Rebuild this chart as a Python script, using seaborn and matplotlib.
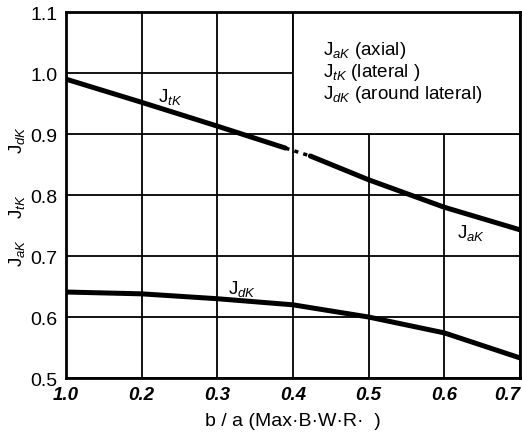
import matplotlib
matplotlib.use("Agg")
import matplotlib.pyplot as plt
import seaborn as sns
import pandas as pd
from matplotlib.patches import Rectangle

# ---- data ----
x_ticks = [0.1, 0.2, 0.3, 0.4, 0.5, 0.6, 0.7]
x_tick_labels = ["1.0", "0.2", "0.3", "0.4", "0.5", "0.6", "0.7"]
y_ticks = [0.5, 0.6, 0.7, 0.8, 0.9, 1.0, 1.1]
y_tick_labels = ["0.5", "0.6", "0.7", "0.8", "0.9", "1.0", "1.1"]

jtk_x = [0.10, 0.20, 0.30, 0.39]
jtk_y = [0.990, 0.952, 0.913, 0.877]
gap_x = [0.39, 0.423]
gap_y = [0.877, 0.864]
jak_x = [0.423, 0.50, 0.60, 0.70]
jak_y = [0.864, 0.825, 0.780, 0.743]
jdk_x = [0.10, 0.20, 0.30, 0.40, 0.50, 0.60, 0.70]
jdk_y = [0.641, 0.638, 0.630, 0.620, 0.600, 0.574, 0.533]

legend_lines = [r"J$_{aK}$ (axial)", r"J$_{tK}$ (lateral )", r"J$_{dK}$ (around lateral)"]

sns.set_style("white")
plt.rcParams['font.family'] = ['Liberation Sans', 'DejaVu Sans']
plt.rcParams['mathtext.fontset'] = 'custom'
plt.rcParams['mathtext.rm'] = 'Liberation Sans'
plt.rcParams['mathtext.it'] = 'Liberation Sans:italic'
plt.rcParams['text.color'] = 'black'
plt.rcParams['xtick.color'] = 'black'
plt.rcParams['ytick.color'] = 'black'
plt.rcParams['axes.labelcolor'] = 'black'

fig = plt.figure(figsize=(5.22, 4.35), dpi=100)
ax = fig.add_axes([0.1264, 0.1287, 0.8696, 0.8413])

lw = 3.6
df_tk = pd.DataFrame({"x": jtk_x, "y": jtk_y})
df_ak = pd.DataFrame({"x": jak_x, "y": jak_y})
df_dk = pd.DataFrame({"x": jdk_x, "y": jdk_y})
df_gap = pd.DataFrame({"x": gap_x, "y": gap_y})
sns.lineplot(data=df_tk, x="x", y="y", ax=ax, color="black", lw=lw, zorder=3)
sns.lineplot(data=df_ak, x="x", y="y", ax=ax, color="black", lw=lw, zorder=3)
sns.lineplot(data=df_dk, x="x", y="y", ax=ax, color="black", lw=lw, zorder=3)
sns.lineplot(data=df_gap, x="x", y="y", ax=ax, color="black", lw=2.5, zorder=3,
             linestyle=(0, (1.2, 1.5)))

ax.set_xlim(0.1, 0.7)
ax.set_ylim(0.5, 1.1)
ax.set_xticks(x_ticks)
ax.set_xticklabels(x_tick_labels, fontsize=13.5, fontweight="bold", fontstyle="italic")
ax.get_xticklabels()[-1].set_horizontalalignment("right")
ax.set_yticks(y_ticks)
ax.set_yticklabels(y_tick_labels, fontsize=14)
ax.tick_params(direction="out", length=4, width=1.3, color="black", pad=2)
ax.grid(True, color="black", lw=1.3)
ax.set_axisbelow(True)
for s in ax.spines.values():
    s.set_color("black")
    s.set_linewidth(2)

# white legend box covering grid in upper right
ax.add_patch(Rectangle((0.4, 0.9), 0.3, 0.2, facecolor="white", edgecolor="black",
                       lw=1.3, zorder=1.5))
for i, t in enumerate(legend_lines):
    ax.text(0.44, 1.038 - i * 0.036, t, fontsize=13.5, va="center", ha="left", zorder=4)

# curve labels
ax.text(0.238, 0.962, r"J$_{tK}$", fontsize=13.5, ha="center", va="center")
ax.text(0.635, 0.74, r"J$_{aK}$", fontsize=13.5, ha="center", va="center")
ax.text(0.333, 0.648, r"J$_{dK}$", fontsize=13.5, ha="center", va="center")

ax.set_xlabel("b / a (Max·B·W·R·  )", fontsize=14, labelpad=6)
ax.set_ylabel("")

# rotated y-label pieces
fig.text(0.032, 1 - 140 / 435, r"J$_{dK}$", rotation=90, fontsize=13.5, ha="center", va="center")
fig.text(0.032, 1 - 207 / 435, r"J$_{tK}$", rotation=90, fontsize=13.5, ha="center", va="center")
fig.text(0.032, 1 - 253 / 435, r"J$_{aK}$", rotation=90, fontsize=13.5, ha="center", va="center")

fig.savefig("out.png", dpi=100)
